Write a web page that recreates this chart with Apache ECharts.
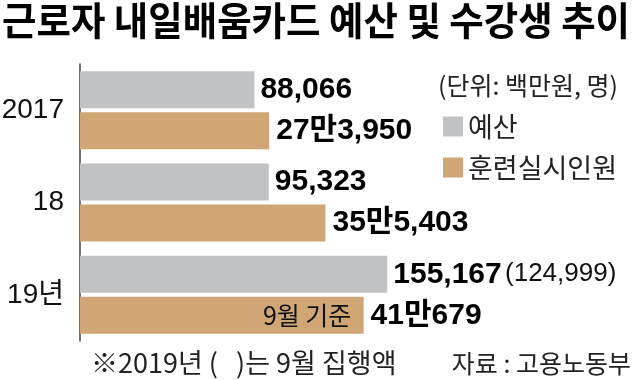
<!DOCTYPE html>
<html>
<head>
<meta charset="utf-8">
<script src="https://cdn.jsdelivr.net/npm/echarts@6/dist/echarts.min.js"></script>
<style>html,body{margin:0;padding:0;background:#fff}#c{width:634px;height:380px}</style>
</head>
<body>
<div id="c"></div>
<script>
var categories = ['2017', '18', '19년'];
var budget = [88066, 95323, 155167];
var budgetExecuted = [null, null, 124999];
var trainees = [273950, 355403, 410679];
var traineeNotes = [null, null, '9월 기준'];
var seriesNames = ['예산', '훈련실시인원'];
var titleText = '근로자 내일배움카드 예산 및 수강생 추이';
var unitText = '(단위: 백만원, 명)';
var noteText = '※2019년 (   )는 9월 집행액';
var sourceText = '자료 : 고용노동부';

var NUM_FONT = '"Liberation Sans", Arial, "Noto Sans CJK KR", sans-serif';
var KR_FONT = '"Noto Sans CJK KR", sans-serif';

function fmtMan(v) {
  var man = Math.floor(v / 10000);
  var rest = v % 10000;
  return man + '만' + rest.toLocaleString('en-US');
}

var budgetData = budget.map(function (v, i) {
  return {
    value: v,
    label: {
      formatter: budgetExecuted[i] != null
        ? '{b|' + v.toLocaleString('en-US') + '} {s|(' + budgetExecuted[i].toLocaleString('en-US') + ')}'
        : '{b|' + v.toLocaleString('en-US') + '}'
    }
  };
});
var traineeData = trainees.map(function (v, i) {
  if (traineeNotes[i]) {
    return {
      value: v,
      label: {
        formatter: '{n|' + traineeNotes[i] + '}{sp|}{b|' + fmtMan(v) + '}',
        offset: [-115, 0]
      }
    };
  }
  return { value: v, label: { formatter: '{b|' + fmtMan(v) + '}' } };
});

var richStyles = {
  b: { fontFamily: NUM_FONT, fontWeight: 'bold', fontSize: 30, color: '#000' },
  s: { fontFamily: NUM_FONT, fontSize: 26, color: '#111' },
  n: { fontFamily: KR_FONT, fontSize: 25, color: '#111', width: 103, align: 'right' },
  sp: { width: 12 }
};

var chart = echarts.init(document.getElementById('c'), null, { renderer: 'canvas' });
chart.setOption({
  animation: false,
  backgroundColor: '#fff',
  grid: { left: 80, top: 64, width: 500, height: 277, outerBoundsMode: 'none', containLabel: false },
  xAxis: [
    { type: 'value', min: 0, max: 252500, show: false },
    { type: 'value', min: 0, max: 724000, show: false }
  ],
  yAxis: {
    type: 'category',
    data: categories,
    inverse: true,
    axisLine: { show: true, lineStyle: { color: '#444', width: 1.5 } },
    axisTick: { show: false },
    axisLabel: {
      margin: 16,
      fontFamily: '"Liberation Sans", "Noto Sans CJK KR", sans-serif',
      fontSize: 28,
      color: '#111',
      padding: [4, 0, 0, 0]
    }
  },
  legend: {
    orient: 'vertical',
    left: 443,
    top: 113,
    padding: 0,
    itemWidth: 20,
    itemHeight: 20,
    itemGap: 14,
    icon: 'rect',
    textStyle: { fontFamily: KR_FONT, fontSize: 27, color: '#222' },
    data: seriesNames
  },
  series: [
    {
      name: seriesNames[0],
      type: 'bar',
      xAxisIndex: 0,
      barWidth: 37,
      barGap: '11%',
      itemStyle: { color: '#c1c2c4' },
      label: { show: true, position: 'right', distance: 6, rich: richStyles },
      data: budgetData
    },
    {
      name: seriesNames[1],
      type: 'bar',
      xAxisIndex: 1,
      barWidth: 37,
      barGap: '11%',
      itemStyle: { color: '#cfa674' },
      label: { show: true, position: 'right', distance: 7, rich: richStyles },
      data: traineeData
    }
  ],
  graphic: [
    {
      type: 'text', x: 2, y: 1, scaleX: 0.96,
      style: { text: titleText, font: 'bold 39px ' + KR_FONT, fill: '#000', textVerticalAlign: 'top' }
    },
    {
      type: 'text', x: 438, y: 85,
      style: { text: unitText, font: '25px ' + KR_FONT, fill: '#222', textVerticalAlign: 'middle' }
    },
    {
      type: 'text', x: 91, y: 363,
      style: { text: noteText, font: '27px ' + KR_FONT, fill: '#222', textVerticalAlign: 'middle' }
    },
    {
      type: 'text', x: 631, y: 363,
      style: { text: sourceText, font: '25px ' + KR_FONT, fill: '#222', textVerticalAlign: 'middle', textAlign: 'right' }
    }
  ]
});
</script>
</body>
</html>
